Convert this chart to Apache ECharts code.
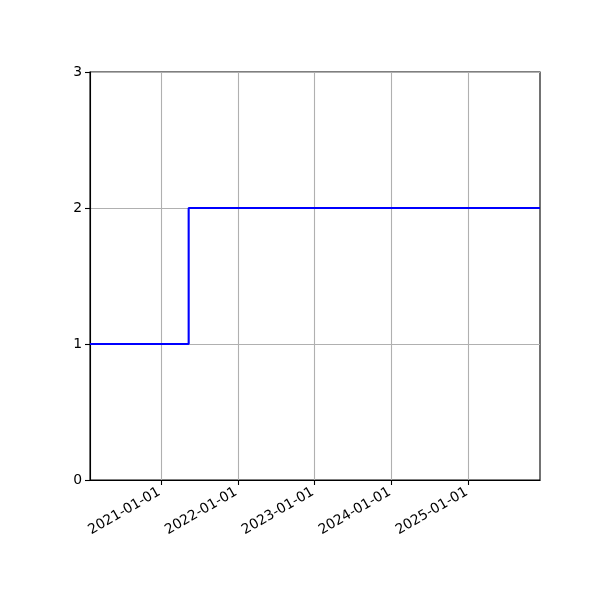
<!DOCTYPE html>
<html>
<head>
<meta charset="utf-8">
<script src="https://cdn.jsdelivr.net/npm/echarts@6/dist/echarts.min.js"></script>
<style>html,body{margin:0;padding:0;background:#fff}#c{width:600px;height:600px}</style>
</head>
<body>
<div id="c"></div>
<script>
const stepDates = ['2020-01-29', '2021-05-12', '2025-12-07'];
const stepValues = [1, 2, 2];
const xTickLabels = ['2021-01-01', '2022-01-01', '2023-01-01', '2024-01-01', '2025-01-01'];
const yTicks = [0, 1, 2, 3];

const toTs = s => Date.parse(s + 'T00:00:00Z');
const data = stepDates.map((d, i) => [toTs(d), stepValues[i]]);
const xTickTs = xTickLabels.map(toTs);
const pad = n => (n < 10 ? '0' : '') + n;
const fmt = v => { const d = new Date(v); return d.getUTCFullYear() + '-' + pad(d.getUTCMonth() + 1) + '-' + pad(d.getUTCDate()); };

const chart = echarts.init(document.getElementById('c'), null, { renderer: 'canvas' });
chart.setOption({
  animation: false,
  backgroundColor: '#fff',
  textStyle: { fontFamily: 'DejaVu Sans' },
  grid: { left: 90, right: 60, top: 72, bottom: 120, show: true, borderColor: '#000', borderWidth: 1.1, backgroundColor: 'transparent' },
  xAxis: {
    type: 'value',
    min: toTs(stepDates[0]),
    max: toTs(stepDates[stepDates.length - 1]),
    axisLine: { show: true, onZero: false, lineStyle: { color: '#000', width: 1.1 } },
    axisTick: { show: true, customValues: xTickTs, length: 5, lineStyle: { color: '#000', width: 1.1 } },
    axisLabel: { customValues: xTickTs, formatter: v => fmt(v), rotate: 30, fontSize: 13.9, color: '#000', margin: 10, padding: [0, 2, 0, 0], fontFamily: 'DejaVu Sans' },
    splitLine: { show: true, lineStyle: { color: '#b0b0b0', width: 1.1 } }
  },
  yAxis: {
    type: 'value',
    min: yTicks[0],
    max: yTicks[yTicks.length - 1],
    interval: 1,
    axisLine: { show: true, lineStyle: { color: '#000', width: 1.1 } },
    axisTick: { show: true, length: 5, lineStyle: { color: '#000', width: 1.1 } },
    axisLabel: { fontSize: 13.9, color: '#000', margin: 8, fontFamily: 'DejaVu Sans' },
    splitLine: { show: true, lineStyle: { color: '#b0b0b0', width: 1.1 } }
  },
  series: [{
    type: 'line',
    step: 'end',
    data: data,
    symbol: 'none',
    lineStyle: { color: '#0000ff', width: 2.1 },
    clip: true
  }]
});
</script>
</body>
</html>
